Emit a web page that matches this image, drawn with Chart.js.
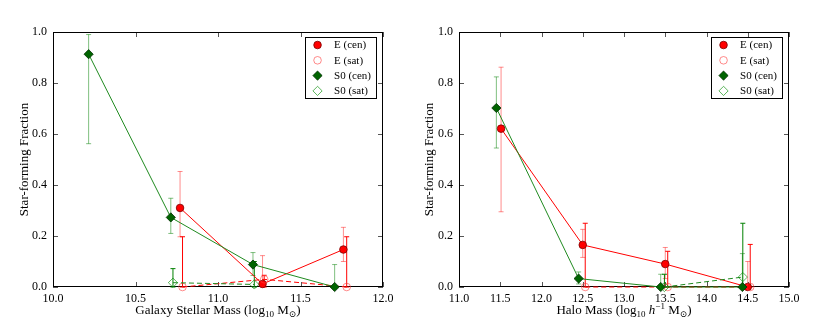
<!DOCTYPE html>
<html>
<head>
<meta charset="utf-8">
<script src="https://cdn.jsdelivr.net/npm/chart.js@4.4.0/dist/chart.umd.min.js"></script>
<style>
  body { margin: 0; background: #fff; }
  canvas { position: absolute; top: 0; }
</style>
</head>
<body>
<canvas id="massChart" width="415" height="320" style="left:0"></canvas>
<canvas id="haloChart" width="415" height="320" style="left:415px"></canvas>
<script>
// ---- data ----
const seriesLabels = ['E (cen)', 'E (sat)', 'S0 (cen)', 'S0 (sat)'];
const fracTicks = [0, 0.2, 0.4, 0.6, 0.8, 1.0];
const massTicks = [10.0, 10.5, 11.0, 11.5, 12.0];
const haloTicks = [11.0, 11.5, 12.0, 12.5, 13.0, 13.5, 14.0, 14.5, 15.0];

// left panel: galaxy stellar mass
const massECenX = [10.77, 11.27, 11.76];
const massECenY = [0.31, 0.012, 0.147];
const massECenLo = [0.197, 0.0, 0.10];
const massECenHi = [0.453, 0.123, 0.234];

const massESatX = [10.785, 11.28, 11.78];
const massESatY = [0.0, 0.03, 0.0];
const massESatLo = [0.0, 0.0, 0.0];
const massESatHi = [0.197, 0.046, 0.197];

const massS0CenX = [10.216, 10.714, 11.212, 11.707];
const massS0CenY = [0.913, 0.273, 0.088, 0.0];
const massS0CenLo = [0.562, 0.21, 0.045, 0.0];
const massS0CenHi = [0.99, 0.348, 0.135, 0.088];

const massS0SatX = [10.727, 11.22];
const massS0SatY = [0.017, 0.01];
const massS0SatLo = [0.0, 0.0];
const massS0SatHi = [0.072, 0.1];

// right panel: halo mass
const haloECenX = [11.51, 12.50, 13.50, 14.50];
const haloECenY = [0.621, 0.165, 0.09, 0.0];
const haloECenLo = [0.295, 0.116, 0.033, 0.0];
const haloECenHi = [0.862, 0.226, 0.155, 0.10];

const haloESatX = [12.53, 13.53, 14.53];
const haloESatY = [0.0, 0.0, 0.0];
const haloESatLo = [0.0, 0.0, 0.0];
const haloESatHi = [0.25, 0.14, 0.167];

const haloS0CenX = [11.453, 12.45, 13.445, 14.435];
const haloS0CenY = [0.702, 0.033, 0.0, 0.0];
const haloS0CenLo = [0.545, 0.012, 0.0, 0.0];
const haloS0CenHi = [0.824, 0.059, 0.05, 0.131];

const haloS0SatX = [13.49, 14.44];
const haloS0SatY = [0.0, 0.039];
const haloS0SatLo = [0.0, 0.0];
const haloS0SatHi = [0.05, 0.25];

// axis titles (rich text pieces)
const fracTitle = 'Star-forming Fraction';
const massTitle = [
    { t: 'Galaxy Stellar Mass (log' }, { t: '10', sub: true }, { t: ' M' }, { t: '\u2299', sub: true }, { t: ')' }
];
const haloTitle = [
    { t: 'Halo Mass (log' }, { t: '10', sub: true }, { t: ' ' }, { t: 'h', it: true },
    { t: '\u22121', sup: true }, { t: ' M' }, { t: '\u2299', sub: true }, { t: ')' }
];

const FONT = "'Liberation Serif', 'DejaVu Serif', serif";
Chart.defaults.font.family = FONT;
Chart.defaults.color = '#000';

function points(xs, ys, lo, hi) {
    return xs.map((x, i) => ({ x: x, y: ys[i], lo: lo[i], hi: hi[i] }));
}

// styles per series: E cen, E sat, S0 cen, S0 sat
const styles = [
    { line: '#ff0000', dash: [], shape: 'circle', r: 3.8, fill: '#ff0000', edge: '#7a0000', err: 'rgba(255,0,0,0.45)' },
    { line: '#ff0000', dash: [5, 3], shape: 'circle', r: 3.8, fill: 'rgba(255,255,255,0)', edge: 'rgba(255,60,60,0.75)', err: '#ff0000' },
    { line: '#1f8a1f', dash: [], shape: 'rectRot', r: 4.6, fill: '#006400', edge: '#003000', err: 'rgba(0,128,0,0.5)' },
    { line: '#1f8a1f', dash: [5, 3], shape: 'rectRot', r: 4.6, fill: 'rgba(255,255,255,0)', edge: 'rgba(0,140,0,0.8)', err: '#008000' }
];

function buildDatasets(sets) {
    return sets.map((data, i) => {
        const s = styles[i];
        return {
            label: seriesLabels[i],
            data: data,
            showLine: true,
            borderColor: s.line,
            borderWidth: 1,
            borderDash: s.dash,
            pointStyle: s.shape,
            pointRadius: s.r,
            pointBackgroundColor: s.fill,
            pointBorderColor: s.edge,
            pointBorderWidth: 0.8,
            errColor: s.err,
            clip: false,
            order: 4 - i
        };
    });
}

// error bars drawn under the markers
const errorBars = {
    id: 'errorBars',
    beforeDatasetsDraw(chart) {
        const ctx = chart.ctx, xs = chart.scales.x, ys = chart.scales.y;
        ctx.save();
        ctx.lineWidth = 1;
        chart.data.datasets.forEach(ds => {
            ctx.strokeStyle = ds.errColor;
            ds.data.forEach(p => {
                const px = xs.getPixelForValue(p.x);
                const top = ys.getPixelForValue(p.hi);
                const bot = ys.getPixelForValue(p.lo);
                ctx.beginPath();
                ctx.moveTo(px, top); ctx.lineTo(px, bot);
                ctx.moveTo(px - 2.5, top); ctx.lineTo(px + 2.5, top);
                ctx.moveTo(px - 2.5, bot); ctx.lineTo(px + 2.5, bot);
                ctx.stroke();
            });
        });
        ctx.restore();
    }
};

// frame + inward ticks on all four sides
const frameTicks = {
    id: 'frameTicks',
    beforeDatasetsDraw(chart) {
        const ctx = chart.ctx, a = chart.chartArea;
        const xs = chart.scales.x, ys = chart.scales.y;
        ctx.save();
        ctx.strokeStyle = '#555';
        ctx.lineWidth = 1;
        ctx.beginPath();
        xs.ticks.forEach(t => {
            const px = Math.round(xs.getPixelForValue(t.value)) + 0.5;
            ctx.moveTo(px, a.bottom); ctx.lineTo(px, a.bottom - 5);
            ctx.moveTo(px, a.top); ctx.lineTo(px, a.top + 5);
        });
        ys.ticks.forEach(t => {
            const py = Math.round(ys.getPixelForValue(t.value)) + 0.5;
            ctx.moveTo(a.left, py); ctx.lineTo(a.left + 5, py);
            ctx.moveTo(a.right, py); ctx.lineTo(a.right - 5, py);
        });
        ctx.stroke();
        ctx.strokeStyle = '#000';
        ctx.strokeRect(a.left + 0.5, a.top + 0.5, a.right - a.left - 1, a.bottom - a.top - 1);
        ctx.restore();
    }
};

function drawMarker(ctx, ds, x, y) {
    ctx.fillStyle = ds.pointBackgroundColor;
    ctx.strokeStyle = ds.pointBorderColor;
    ctx.lineWidth = ds.pointBorderWidth;
    const r = ds.pointRadius;
    ctx.beginPath();
    if (ds.pointStyle === 'circle') {
        ctx.arc(x, y, r, 0, Math.PI * 2);
    } else {
        ctx.moveTo(x, y - r); ctx.lineTo(x + r, y); ctx.lineTo(x, y + r); ctx.lineTo(x - r, y);
        ctx.closePath();
    }
    ctx.fill();
    ctx.stroke();
}

// legend box inside the upper right corner
const insideLegend = {
    id: 'insideLegend',
    afterDraw(chart) {
        const ctx = chart.ctx, a = chart.chartArea;
        ctx.save();
        ctx.font = '11px ' + FONT;
        const dsets = chart.data.datasets;
        const textW = Math.max(...dsets.map(d => ctx.measureText(d.label).width));
        const w = 29 + textW + 5, h = 61;
        const bx = a.right - 7 - w, by = a.top + 5;
        ctx.fillStyle = '#fff';
        ctx.fillRect(bx, by, w, h);
        ctx.strokeStyle = '#000';
        ctx.lineWidth = 1;
        ctx.strokeRect(Math.round(bx) + 0.5, Math.round(by) + 0.5, Math.round(w), h);
        dsets.forEach((d, i) => {
            const cy = by + 8 + i * 15.3;
            drawMarker(ctx, d, bx + 12.5, cy);
            ctx.fillStyle = '#000';
            ctx.textBaseline = 'middle';
            ctx.fillText(d.label, bx + 29, cy + 0.5);
        });
        ctx.restore();
    }
};

// x axis title with sub/superscripts
const richTitle = {
    id: 'richTitle',
    afterDraw(chart, args, opts) {
        const ctx = chart.ctx, a = chart.chartArea;
        const parts = opts.parts;
        ctx.save();
        const fontOf = p => (p.it ? 'italic ' : '') + ((p.sub || p.sup) ? '9px ' : '13px ') + FONT;
        let total = 0;
        parts.forEach(p => { ctx.font = fontOf(p); total += ctx.measureText(p.t).width; });
        let x = (a.left + a.right) / 2 - total / 2;
        const base = 314;
        ctx.fillStyle = '#000';
        ctx.textBaseline = 'alphabetic';
        parts.forEach(p => {
            ctx.font = fontOf(p);
            const dy = p.sub ? 3 : (p.sup ? -5 : 0);
            ctx.fillText(p.t, x, base + dy);
            x += ctx.measureText(p.t).width;
        });
        ctx.restore();
    }
};

function makeChart(id, sets, xTicks, titleParts, yWidth, yTitlePad) {
    new Chart(document.getElementById(id), {
        type: 'scatter',
        data: { datasets: buildDatasets(sets) },
        options: {
            responsive: false,
            animation: false,
            events: [],
            layout: { padding: { top: 32, right: 415 - 330 - yWidth, bottom: 0, left: 0 } },
            plugins: {
                legend: { display: false },
                tooltip: { enabled: false },
                richTitle: { parts: titleParts }
            },
            scales: {
                x: {
                    type: 'linear',
                    min: xTicks[0],
                    max: xTicks[xTicks.length - 1],
                    afterBuildTicks: s => { s.ticks = xTicks.map(v => ({ value: v })); },
                    afterFit: s => { s.height = 33; },
                    grid: { display: false, drawTicks: false },
                    border: { display: false },
                    ticks: { font: { size: 12 }, padding: 5, maxRotation: 0, autoSkip: false,
                             callback: v => v.toFixed(1) }
                },
                y: {
                    min: 0,
                    max: 1,
                    afterBuildTicks: s => { s.ticks = fracTicks.map(v => ({ value: v })); },
                    afterFit: s => { s.width = yWidth; },
                    grid: { display: false, drawTicks: false },
                    border: { display: false },
                    ticks: { font: { size: 12 }, padding: 6, callback: v => v.toFixed(1) },
                    title: { display: true, text: fracTitle, font: { size: 13 }, padding: { top: yTitlePad, bottom: 0 } }
                }
            }
        },
        plugins: [frameTicks, errorBars, insideLegend, richTitle]
    });
}

makeChart('massChart', [
    points(massECenX, massECenY, massECenLo, massECenHi),
    points(massESatX, massESatY, massESatLo, massESatHi),
    points(massS0CenX, massS0CenY, massS0CenLo, massS0CenHi),
    points(massS0SatX, massS0SatY, massS0SatLo, massS0SatHi)
], massTicks, massTitle, 53, 17);

makeChart('haloChart', [
    points(haloECenX, haloECenY, haloECenLo, haloECenHi),
    points(haloESatX, haloESatY, haloESatLo, haloESatHi),
    points(haloS0CenX, haloS0CenY, haloS0CenLo, haloS0CenHi),
    points(haloS0SatX, haloS0SatY, haloS0SatLo, haloS0SatHi)
], haloTicks, haloTitle, 44, 7);
</script>
</body>
</html>
